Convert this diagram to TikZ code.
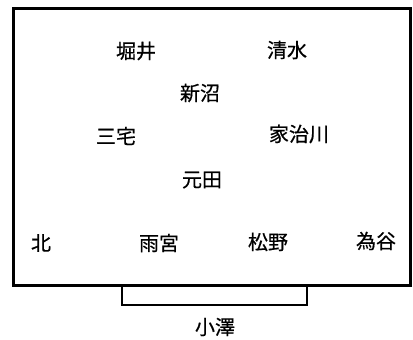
\documentclass[tikz,border=0pt]{standalone}
\usepackage{fontspec}
\newfontfamily\cjk[FakeBold=0.6]{Noto Sans CJK JP}
\begin{document}
\begin{tikzpicture}[x=1pt,y=-1pt,
  lbl/.style={font=\cjk\fontsize{20}{20}\selectfont, inner sep=0pt},
  wall/.style={line width=3pt},
  stage/.style={line width=2pt}]
\useasboundingbox (0,0) rectangle (413,340);
\draw[wall] (13,8) rectangle (410,285);
\draw[stage] (122,286) -- (122,305) -- (307,305) -- (307,286);
\node[lbl] (horii) at (136,51) {堀井};
\node[lbl] (shimizu) at (287,50) {清水};
\node[lbl] (niinuma) at (200,93) {新沼};
\node[lbl] (miyake) at (116,136) {三宅};
\node[lbl] (kajikawa) at (299,134) {家治川};
\node[lbl] (motoda) at (202,180) {元田};
\node[lbl] (kita) at (41,243) {北};
\node[lbl] (amamiya) at (159,243) {雨宮};
\node[lbl] (matsuno) at (268,242) {松野};
\node[lbl] (tametani) at (376,241) {為谷};
\node[lbl] (ozawa) at (215,327) {小澤};
\end{tikzpicture}
\end{document}
